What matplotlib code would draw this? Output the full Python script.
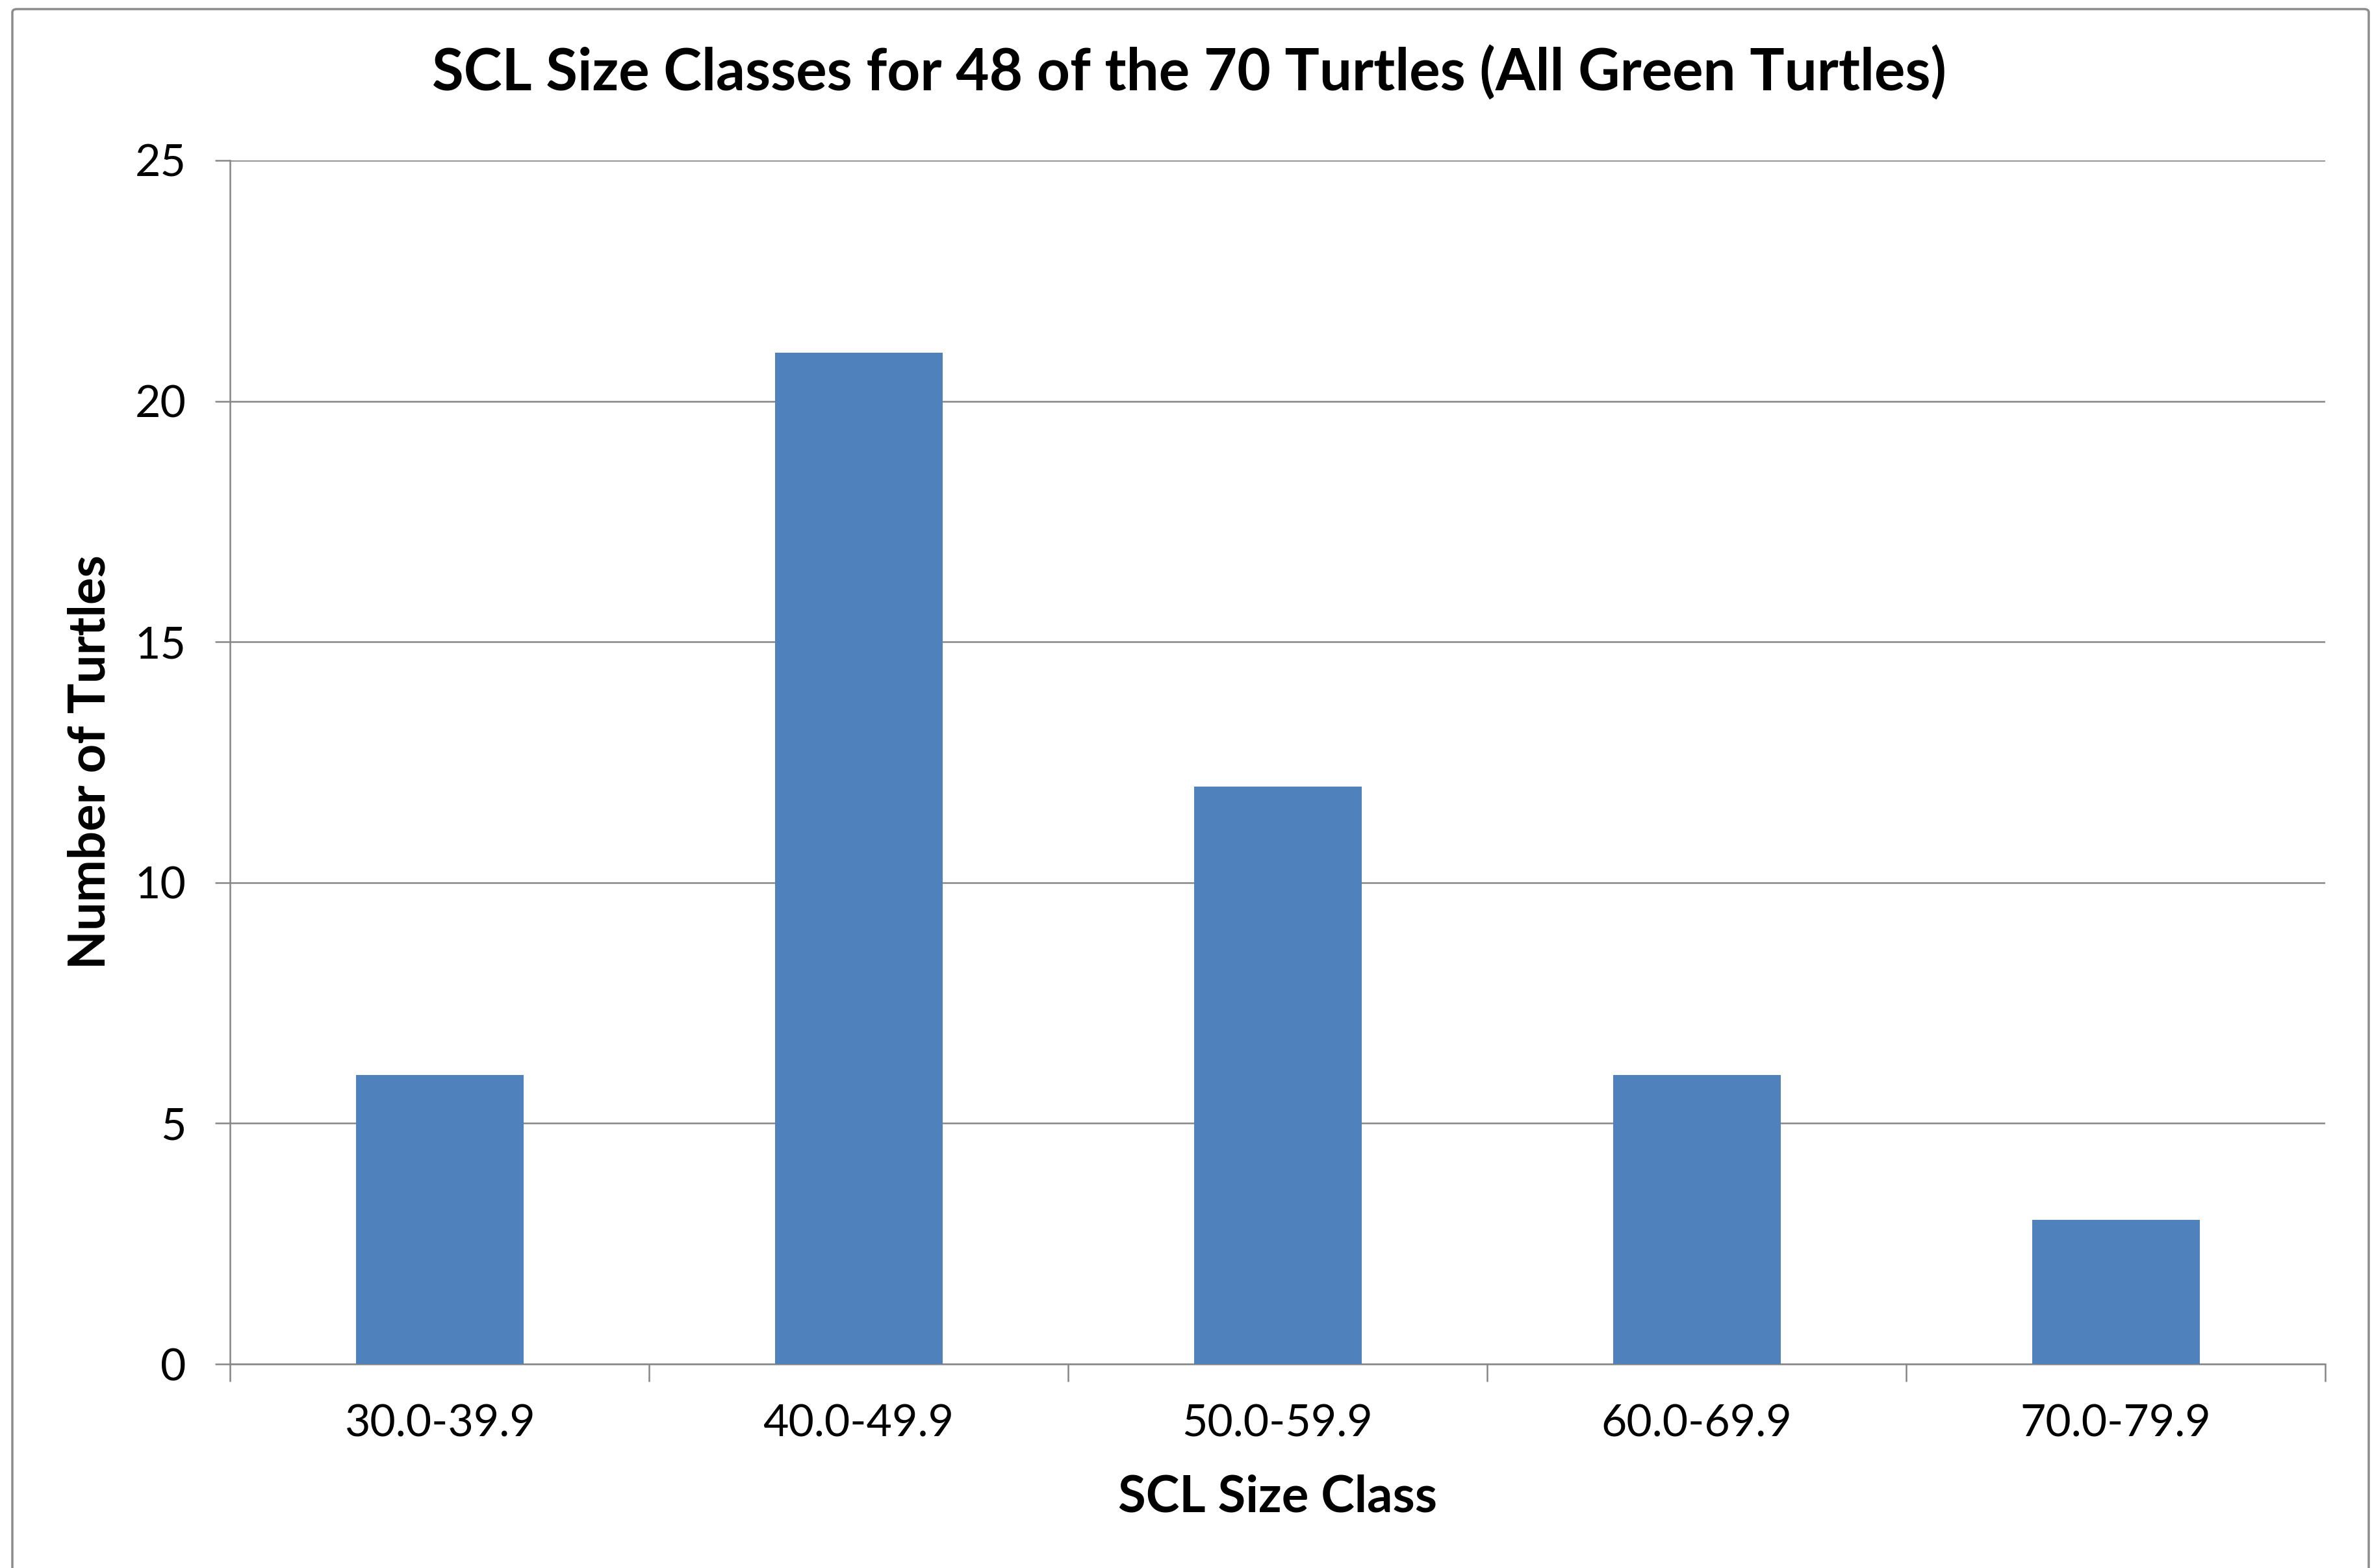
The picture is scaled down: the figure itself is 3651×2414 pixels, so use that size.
import matplotlib
matplotlib.use("Agg")
import matplotlib.pyplot as plt
from matplotlib.patches import FancyBboxPatch

size_classes = ["30.0-39.9", "40.0-49.9", "50.0-59.9", "60.0-69.9", "70.0-79.9"]
turtle_counts = [6, 21, 12, 6, 3]
y_ticks = [0, 5, 10, 15, 20, 25]

plt.rcParams['font.family'] = ['Lato', 'DejaVu Sans']

W, H = 3651, 2414
fig = plt.figure(figsize=(W / 100, H / 100), dpi=100)
fig.patch.set_facecolor('white')

# outer chart border
border = FancyBboxPatch((19 / W, -0.05), (3646 - 19) / W, 1 - 14 / H + 0.05,
                        boxstyle="round,pad=0,rounding_size=0.002",
                        transform=fig.transFigure, fill=False,
                        edgecolor='#8c8c8c', linewidth=2.5)
fig.patches.append(border)

left, right, top, bottom = 354, 3579, 247, 2100
ax = fig.add_axes([left / W, 1 - bottom / H, (right - left) / W, (bottom - top) / H])

x = list(range(len(size_classes)))
ax.bar(x, turtle_counts, width=0.4, color='#4F81BD', zorder=3)

ax.set_xlim(-0.5, len(size_classes) - 0.5)
ax.set_ylim(0, 25)
ax.set_yticks(y_ticks)
ax.set_xticks(x)
ax.set_xticklabels(size_classes)
ax.set_xticks([i - 0.5 for i in range(len(size_classes) + 1)], minor=True)

grid_c = '#868686'
ax.yaxis.grid(True, color=grid_c, linewidth=1.8, zorder=0)
ax.set_axisbelow(True)
for s in ['top', 'right']:
    ax.spines[s].set_visible(False)
for s in ['left', 'bottom']:
    ax.spines[s].set_color(grid_c)
    ax.spines[s].set_linewidth(1.8)

ax.tick_params(axis='y', which='major', length=16.5, width=1.8, color=grid_c,
               pad=32, labelsize=49, labelcolor='black')
ax.tick_params(axis='x', which='major', length=0, pad=44, labelsize=49,
               labelcolor='black')
ax.tick_params(axis='x', which='minor', length=19.5, width=1.8, color=grid_c)

ax.set_xlabel("SCL Size Class", fontsize=56, fontweight='bold')
ax.xaxis.set_label_coords(0.5, -(2305 - bottom) / (bottom - top), transform=ax.transAxes)
ax.xaxis.label.set_va('center')
ax.set_ylabel("Number of Turtles", fontsize=56, fontweight='bold')
ax.yaxis.set_label_coords(-(left - 140) / (right - left), 0.5, transform=ax.transAxes)
ax.yaxis.label.set_va('center')

fig.text(1830 / W, 1 - 112 / H, "SCL Size Classes for 48 of the 70 Turtles (All Green Turtles)",
         ha='center', va='center', fontsize=64, fontweight='bold')

fig.savefig("out.png", dpi=100, facecolor='white')
